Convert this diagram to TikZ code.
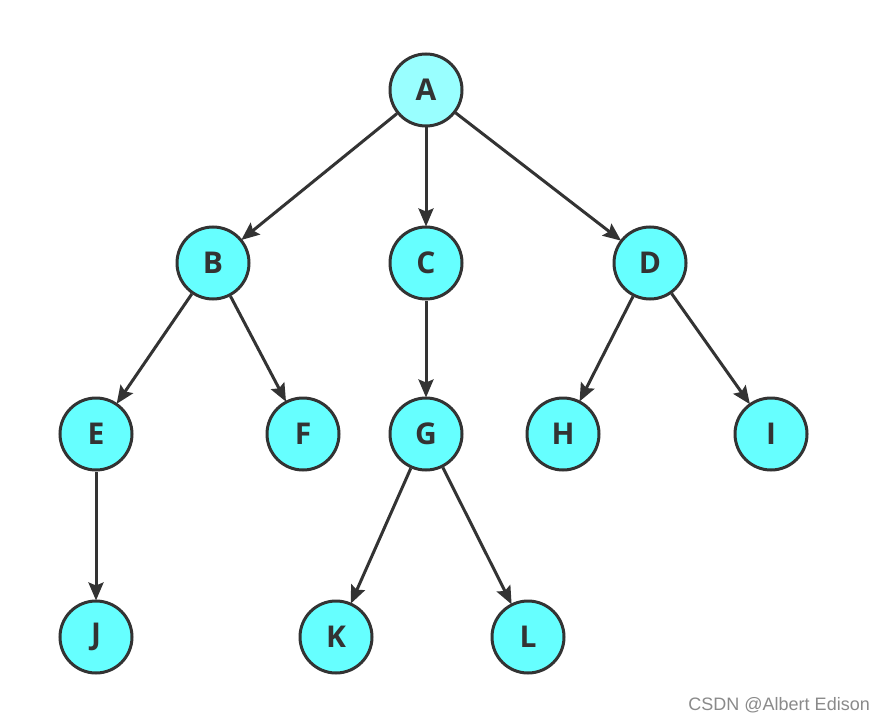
\documentclass[tikz,border=0pt]{standalone}
\usepackage{fontspec}
\setmainfont{Open Sans}
\newfontfamily\wmfont{Liberation Sans}
\usetikzlibrary{arrows.meta}
\definecolor{nodefill}{HTML}{66FFFF}
\definecolor{rootfill}{HTML}{99FFFF}
\definecolor{edgecol}{HTML}{333333}
\definecolor{wmcol}{HTML}{8A8A8A}
\tikzset{
  treenode/.style={circle, draw=edgecol, line width=3pt, fill=nodefill,
    minimum size=72pt, inner sep=0pt, font=\fontsize{30}{30}\selectfont\bfseries, text=edgecol},
  rootnode/.style={treenode, fill=rootfill},
  edge/.style={draw=edgecol, line width=3pt, -{Stealth[length=18pt,width=15pt,inset=3pt]}, shorten >=-1pt}
}
\begin{document}
\begin{tikzpicture}[x=1pt,y=-1pt]
\useasboundingbox (0,0) rectangle (885,719);
\fill[white] (0,0) rectangle (885,719);
\node[rootnode] (A) at (426,90) {A};
\node[treenode] (B) at (213,263) {B};
\node[treenode] (C) at (426,263) {C};
\node[treenode] (D) at (650,263) {D};
\node[treenode] (E) at (96,434) {E};
\node[treenode] (F) at (303,434) {F};
\node[treenode] (G) at (426,434) {G};
\node[treenode] (H) at (563,434) {H};
\node[treenode] (I) at (771,434) {I};
\node[treenode] (J) at (96,637) {J};
\node[treenode] (K) at (336,637) {K};
\node[treenode] (L) at (528,637) {L};
\draw[edge] (A) -- (B);
\draw[edge] (A) -- (C);
\draw[edge] (A) -- (D);
\draw[edge] (B) -- (E);
\draw[edge] (B) -- (F);
\draw[edge] (C) -- (G);
\draw[edge] (D) -- (H);
\draw[edge] (D) -- (I);
\draw[edge] (E) -- (J);
\draw[edge] (G) -- (K);
\draw[edge] (G) -- (L);
\node[font=\wmfont\fontsize{18}{18}\selectfont, text=wmcol, anchor=base east, inner sep=0pt] (wm) at (870,710) {CSDN @Albert Edison};
\end{tikzpicture}
\end{document}
